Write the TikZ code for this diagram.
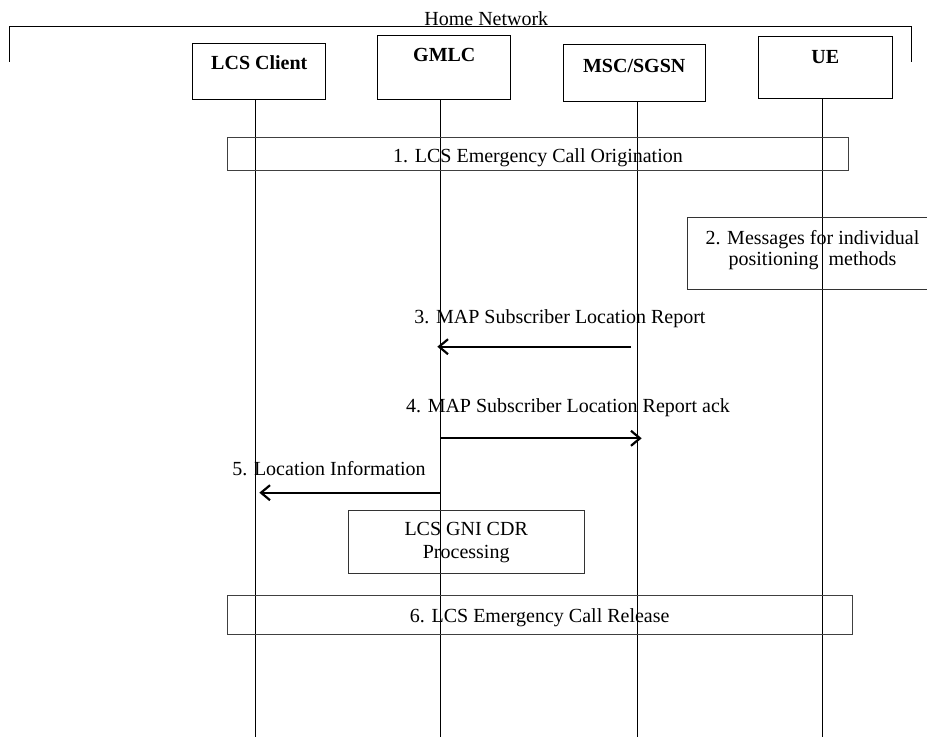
\documentclass[tikz,border=0pt]{standalone}
\usepackage{fontspec}
\setmainfont{Liberation Serif}
\usetikzlibrary{arrows.meta,positioning}
\tikzset{>={Straight Barb[length=9pt,width=15pt,line width=2.2pt]}}

\begin{document}
\begin{tikzpicture}[x=1pt,y=-1pt,
    font=\fontsize{20}{21}\selectfont,
    hdr/.style={draw, line width=1pt, anchor=north, inner xsep=0pt, text height=14pt,
        font=\fontsize{20}{21}\selectfont\bfseries},
    stepbox/.style={draw=black!75, line width=1pt, inner sep=0pt, text height=16pt, text depth=0pt},
    note/.style={draw=black!80, line width=1pt, inner sep=0pt, align=center},
    msg/.style={->, line width=2.2pt},
    life/.style={line width=1pt}]
    \useasboundingbox (0,0) rectangle (927,737);

    % home network
    \draw[line width=1pt] (9,61.7) -- (9,26.7) -- (911.7,26.7) -- (911.7,61.7);
    \node[anchor=base] (home) at (486.3,25) {Home Network};

    % entities
    \node[hdr, minimum width=133.3pt, inner ysep=12.6pt, text depth=17.4pt] (lcs) at (259.3,42.7) {LCS Client};
    \node[hdr, minimum width=133.3pt, inner ysep=12pt, text depth=26.3pt] (gmlc) at (444.3,35) {GMLC};
    \node[hdr, minimum width=141.7pt, inner ysep=13.4pt, text depth=15.6pt] (msc) at (634.2,44.3) {MSC/SGSN};
    \node[hdr, minimum width=134pt, inner ysep=12.7pt, text depth=22.9pt] (ue) at (825.3,36) {UE};

    % life lines
    \coordinate (lcsend) at (255,737);
    \coordinate (gmlcend) at (440.7,737);
    \coordinate (mscend) at (637.7,737);
    \coordinate (ueend) at (822.3,737);
    \draw[life] (lcs.south -| lcsend) -- (lcsend);
    \draw[life] (gmlc.south -| gmlcend) -- (gmlcend);
    \draw[life] (msc.south -| mscend) -- (mscend);
    \draw[life] (ue.south -| ueend) -- (ueend);

    % steps
    \node[stepbox, minimum width=621.4pt, minimum height=33pt] (orig) at (538,154.2) {1. LCS Emergency Call Origination};
    \node[note, minimum width=250.4pt, minimum height=71.7pt, text depth=10pt] (pos) at (812.5,253.2) {2. Messages for individual\\positioning\ \ methods};

    \coordinate (m3a) at (631,346.7);
    \coordinate (m3b) at (437.3,346.7);
    \draw[msg] (m3a) -- (m3b);
    \node[anchor=base] (l3) at (560,323.3) {3. MAP Subscriber Location Report};

    \coordinate (m4a) at (440.7,438.3);
    \coordinate (m4b) at (641.7,438.3);
    \draw[msg] (m4a) -- (m4b);
    \node[anchor=base] (l4) at (568,412.3) {4. MAP Subscriber Location Report ack};

    \coordinate (m5a) at (440.7,492.7);
    \coordinate (m5b) at (259.3,492.7);
    \draw[msg] (m5a) -- (m5b);
    \node[anchor=base] (l5) at (329,475) {5. Location Information};

    \node[note, minimum width=235.7pt, minimum height=63.3pt] (cdr) at (466.2,542.3) {LCS GNI CDR\\[2.3pt]Processing};
    \node[stepbox, minimum width=624.7pt, minimum height=38.7pt] (rel) at (539.7,614.7) {6. LCS Emergency Call Release};
\end{tikzpicture}
\end{document}
